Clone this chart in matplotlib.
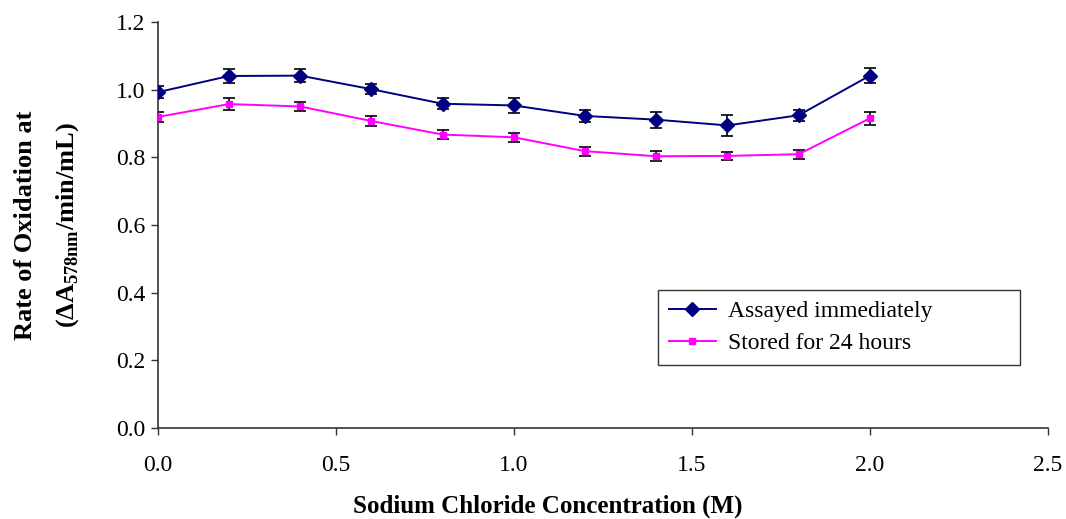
import matplotlib
matplotlib.use("Agg")
import matplotlib.pyplot as plt
import numpy as np

plt.rcParams['font.family'] = ['Liberation Serif', 'DejaVu Serif']
plt.rcParams['mathtext.fontset'] = 'custom'
plt.rcParams['mathtext.rm'] = 'Liberation Serif'
plt.rcParams['mathtext.bf'] = 'Liberation Serif:bold'

# DATA
nacl = [0.0, 0.2, 0.4, 0.6, 0.8, 1.0, 1.2, 1.4, 1.6, 1.8, 2.0]
immediate = [0.992, 1.040, 1.041, 1.001, 0.958, 0.953, 0.922, 0.911, 0.894, 0.924, 1.041]
immediate_err = [0.018, 0.021, 0.019, 0.015, 0.016, 0.021, 0.017, 0.024, 0.031, 0.017, 0.022]
stored = [0.919, 0.957, 0.950, 0.907, 0.867, 0.859, 0.818, 0.803, 0.804, 0.809, 0.915]
stored_err = [0.015, 0.018, 0.014, 0.016, 0.014, 0.013, 0.013, 0.015, 0.012, 0.013, 0.019]
xticks = [0.0, 0.5, 1.0, 1.5, 2.0, 2.5]
yticks = [0.0, 0.2, 0.4, 0.6, 0.8, 1.0, 1.2]

fig = plt.figure(figsize=(10.66, 5.19), dpi=100)
ax = fig.add_axes([0.148, 0.175, 0.835, 0.783])

# error bars drawn first, in black
ax.errorbar(nacl, immediate, yerr=immediate_err, fmt='none', ecolor='black',
            elinewidth=1.2, capsize=4.5, capthick=1.2, zorder=2)
ax.errorbar(nacl, stored, yerr=stored_err, fmt='none', ecolor='black',
            elinewidth=1.2, capsize=4.5, capthick=1.2, zorder=2)
ax.plot(nacl, immediate, color='#000080', marker='D', markersize=7,
        linewidth=1.4, label='Assayed immediately', zorder=3)
ax.plot(nacl, stored, color='#ff00ff', marker='s', markersize=5,
        linewidth=1.4, label='Stored for 24 hours', zorder=3)

ax.set_xlim(0, 2.5)
ax.set_ylim(0, 1.2)
ax.set_xticks(xticks)
ax.set_yticks(yticks)
ax.xaxis.set_major_formatter(matplotlib.ticker.FormatStrFormatter('%.1f'))
ax.yaxis.set_major_formatter(matplotlib.ticker.FormatStrFormatter('%.1f'))
ax.tick_params(axis='both', direction='out', length=5, width=1, labelsize=17,
               color='#333333')
ax.tick_params(axis='x', pad=14)
ax.tick_params(axis='y', pad=4)
for side in ['top', 'right']:
    ax.spines[side].set_visible(False)
for side in ['left', 'bottom']:
    ax.spines[side].set_linewidth(1.2)
    ax.spines[side].set_color('#333333')

fig.text(0.514, 0.025, 'Sodium Chloride Concentration (M)', fontsize=18,
         fontweight='bold', ha='center', va='center')
fig.text(0.024, 0.566, 'Rate of Oxidation at', rotation=90, fontsize=19,
         fontweight='bold', ha='center', va='center')
fig.text(0.063, 0.566, r'($\mathbf{\Delta A}_{\mathbf{578nm}}$/min/mL)',
         rotation=90, fontsize=19, fontweight='bold', ha='center', va='center')

leg = ax.legend(loc='upper left', bbox_to_anchor=(0.562, 0.135, 0.4065, 0.205),
                mode='expand', borderaxespad=0, fontsize=17,
                frameon=True, fancybox=False, handlelength=2.0,
                borderpad=0.45, labelspacing=0.45, handletextpad=0.5)
leg.get_frame().set_edgecolor('black')
leg.get_frame().set_linewidth(1.0)

plt.savefig('out.png', dpi=100)
